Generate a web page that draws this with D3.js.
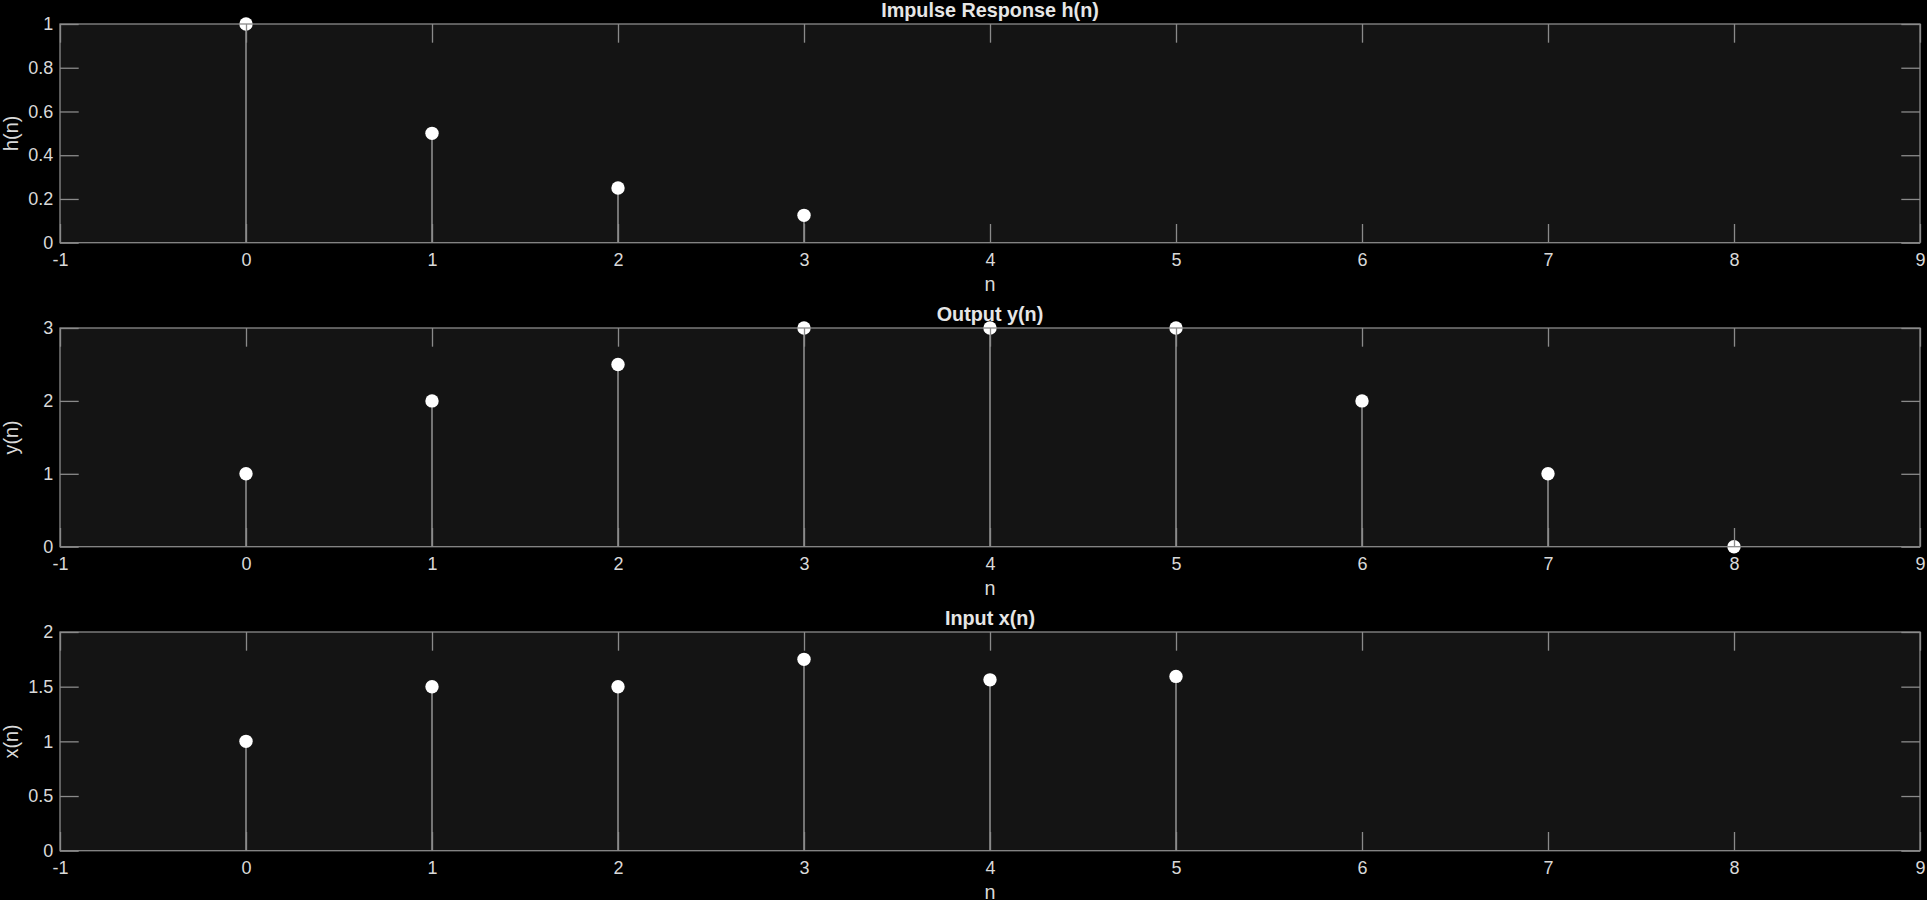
<!DOCTYPE html>
<html>
<head>
<meta charset="utf-8">
<script src="https://cdn.jsdelivr.net/npm/d3@7"></script>
<style>
  html, body { margin: 0; padding: 0; background: #000; }
  svg { display: block; }
  text { font-family: "Liberation Sans", Arial, Helvetica, sans-serif; }
</style>
</head>
<body>
<svg id="chart" width="1927" height="900"></svg>
<script>
// ---- data ----
const xDomain = [-1, 9];
const xTicks = [-1, 0, 1, 2, 3, 4, 5, 6, 7, 8, 9];

const hN = [0, 1, 2, 3];
const hVals = [1, 0.5, 0.25, 0.125];
const hTicks = [0, 0.2, 0.4, 0.6, 0.8, 1];

const yN = [0, 1, 2, 3, 4, 5, 6, 7, 8];
const yVals = [1, 2, 2.5, 3, 3, 3, 2, 1, 0];
const yTicks = [0, 1, 2, 3];

const xN = [0, 1, 2, 3, 4, 5];
const xVals = [1, 1.5, 1.5, 1.75, 1.5625, 1.59375];
const xInTicks = [0, 0.5, 1, 1.5, 2];

const panels = [
  { title: "Impulse Response h(n)", ylabel: "h(n)", n: hN, v: hVals, yDomain: [0, 1], yTicks: hTicks },
  { title: "Output y(n)", ylabel: "y(n)", n: yN, v: yVals, yDomain: [0, 3], yTicks: yTicks },
  { title: "Input x(n)", ylabel: "x(n)", n: xN, v: xVals, yDomain: [0, 2], yTicks: xInTicks }
];

// ---- layout ----
const left = 60, right = 1920;
const tops = [24, 328, 632];
const ph = 218.7;
const tickLen = 18.7;
const axisColor = "#8a8a8a";
const textColor = "#d9d9d9";

const svg = d3.select("#chart");
svg.append("rect").attr("width", 1927).attr("height", 900).attr("fill", "#000");

const x = d3.scaleLinear().domain(xDomain).range([left, right]);

panels.forEach((p, i) => {
  const top = tops[i], bottom = top + ph;
  const y = d3.scaleLinear().domain(p.yDomain).range([bottom, top]);
  const g = svg.append("g");

  g.append("rect")
    .attr("x", left).attr("y", top)
    .attr("width", right - left).attr("height", ph)
    .attr("fill", "#141414");

  const pts = p.n.map((n, k) => ({ n, v: p.v[k] }));

  // stems
  g.selectAll("line.stem").data(pts).enter().append("line")
    .attr("class", "stem")
    .attr("x1", d => x(d.n)).attr("x2", d => x(d.n))
    .attr("y1", y(0)).attr("y2", d => y(d.v))
    .attr("stroke", "#a8a8a8").attr("stroke-width", 1.3);

  // markers
  g.selectAll("circle").data(pts).enter().append("circle")
    .attr("cx", d => x(d.n)).attr("cy", d => y(d.v))
    .attr("r", 6.7).attr("fill", "#fff");

  // axes (ticks inward, drawn on top)
  const ax = [
    { a: d3.axisBottom(x).tickValues(xTicks).tickSizeInner(-tickLen).tickSizeOuter(0).tickPadding(10.5).tickFormat(d => String(d)), t: `translate(0,${bottom})`, lab: true },
    { a: d3.axisTop(x).tickValues(xTicks).tickSizeInner(-tickLen).tickSizeOuter(0).tickFormat(""), t: `translate(0,${top})`, lab: false },
    { a: d3.axisLeft(y).tickValues(p.yTicks).tickSizeInner(-tickLen).tickSizeOuter(0).tickPadding(6.7).tickFormat(d => String(d)), t: `translate(${left},0)`, lab: true },
    { a: d3.axisRight(y).tickValues(p.yTicks).tickSizeInner(-tickLen).tickSizeOuter(0).tickFormat(""), t: `translate(${right},0)`, lab: false }
  ];
  ax.forEach(o => {
    const ag = g.append("g").attr("transform", o.t).call(o.a);
    ag.select(".domain").remove();
    ag.selectAll(".tick line").attr("stroke", axisColor).attr("stroke-width", 1.3);
    ag.selectAll(".tick text").attr("fill", textColor).style("font-size", "18px")
      .style("font-family", '"Liberation Sans", Arial, Helvetica, sans-serif');
  });

  // box
  g.append("rect")
    .attr("x", left).attr("y", top)
    .attr("width", right - left).attr("height", ph)
    .attr("fill", "none").attr("stroke", axisColor).attr("stroke-width", 1.3);

  // title
  g.append("text")
    .attr("x", (left + right) / 2).attr("y", top - 7)
    .attr("text-anchor", "middle")
    .attr("fill", "#e6e6e6")
    .style("font-size", "19.8px").style("font-weight", "bold")
    .text(p.title);

  // x label
  g.append("text")
    .attr("x", (left + right) / 2).attr("y", bottom + 48)
    .attr("text-anchor", "middle")
    .attr("fill", textColor)
    .style("font-size", "19.8px")
    .text("n");

  // y label
  g.append("text")
    .attr("transform", `translate(17.5,${(top + bottom) / 2}) rotate(-90)`)
    .attr("text-anchor", "middle")
    .attr("fill", textColor)
    .style("font-size", "19.8px")
    .text(p.ylabel);
});
</script>
</body>
</html>
